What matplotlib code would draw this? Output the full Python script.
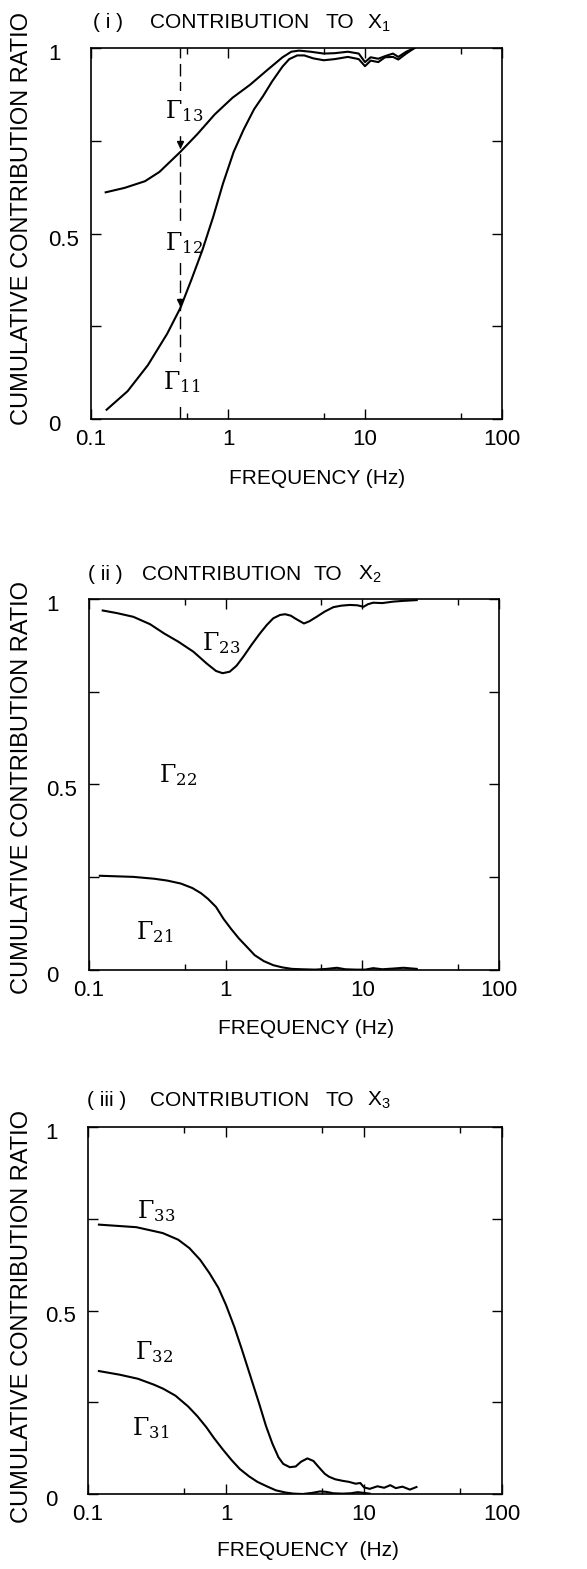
import matplotlib.pyplot as plt
import matplotlib.transforms as mtransforms
import numpy as np

plt.rcParams['font.family'] = ['Liberation Sans', 'DejaVu Sans']
plt.rcParams['font.size'] = 15
plt.rcParams['mathtext.fontset'] = 'custom'
plt.rcParams['mathtext.rm'] = 'Liberation Sans'
plt.rcParams['mathtext.it'] = 'Liberation Sans'

# (i) contribution to X1
f1_up = [0.128, 0.176, 0.248, 0.316, 0.446, 0.598, 0.80, 1.08, 1.45, 1.94, 2.5, 2.9, 3.3, 4.0, 5.0, 6.0, 7.5, 9.0,
         10.0, 11.0, 12.5, 14.0, 16.0, 17.5, 20.0, 23.0]
r1_up = [0.611, 0.623, 0.641, 0.666, 0.719, 0.768, 0.821, 0.866, 0.901, 0.941, 0.975, 0.99, 0.993, 0.99, 0.985,
         0.986, 0.99, 0.985, 0.962, 0.975, 0.971, 0.978, 0.985, 0.976, 0.99, 1.0]
f1_lo = [0.13, 0.185, 0.26, 0.36, 0.45, 0.54, 0.65, 0.78, 0.92, 1.1, 1.3, 1.55, 1.8, 2.1, 2.5, 2.8, 3.2, 3.6, 4.2,
         5.0, 6.0, 7.5, 9.0, 10.0, 11.0, 12.5, 14.0, 16.0, 17.5, 20.0, 23.0]
r1_lo = [0.025, 0.075, 0.145, 0.23, 0.30, 0.375, 0.455, 0.545, 0.635, 0.72, 0.78, 0.835, 0.87, 0.91, 0.95, 0.97,
         0.98, 0.98, 0.972, 0.967, 0.97, 0.976, 0.97, 0.951, 0.966, 0.962, 0.975, 0.976, 0.969, 0.985, 1.0]

# (ii) contribution to X2
f2_up = [0.126, 0.16, 0.211, 0.28, 0.355, 0.45, 0.58, 0.727, 0.85, 0.95, 1.07, 1.2, 1.35, 1.55, 1.78, 2.0, 2.23,
         2.5, 2.72, 3.0, 3.21, 3.5, 3.74, 4.1, 4.63, 5.3, 6.14, 7.0, 8.1, 9.2, 10.2, 11.0, 12.0, 14.0, 16.9, 20.0, 25.0]
r2_up = [0.969, 0.962, 0.952, 0.932, 0.907, 0.885, 0.858, 0.826, 0.806, 0.80, 0.804, 0.82, 0.845, 0.877, 0.907,
         0.93, 0.948, 0.957, 0.959, 0.955, 0.948, 0.94, 0.934, 0.94, 0.952, 0.966, 0.978, 0.982, 0.984, 0.983,
         0.979, 0.986, 0.99, 0.989, 0.993, 0.995, 0.997]
f2_lo = [0.12, 0.211, 0.3, 0.374, 0.47, 0.57, 0.66, 0.741, 0.85, 0.964, 1.1, 1.25, 1.45, 1.63, 1.9, 2.23, 2.6,
         3.06, 3.6, 4.5, 5.5, 6.5, 7.5, 9.0, 10.5, 12.0, 14.0, 17.0, 20.0, 25.0]
r2_lo = [0.254, 0.251, 0.246, 0.241, 0.233, 0.221, 0.207, 0.192, 0.17, 0.138, 0.11, 0.085, 0.06, 0.04, 0.024,
         0.013, 0.007, 0.003, 0.002, 0.001, 0.003, 0.006, 0.002, 0.001, 0.001, 0.005, 0.002, 0.004, 0.006, 0.003]

# (iii) contribution to X3
f3_up = [0.12, 0.224, 0.348, 0.45, 0.543, 0.65, 0.758, 0.88, 1.0, 1.15, 1.3, 1.5, 1.74, 1.95, 2.17, 2.4, 2.6,
         2.9, 3.2, 3.5, 3.89, 4.3, 4.73, 5.2, 5.58, 6.2, 6.97, 7.8, 8.7, 9.4, 10.0, 11.0, 12.5, 14.0, 15.5, 17.0,
         19.0, 21.5, 24.0]
r3_up = [0.734, 0.727, 0.711, 0.693, 0.67, 0.638, 0.602, 0.562, 0.515, 0.455, 0.395, 0.322, 0.246, 0.185, 0.137,
         0.1, 0.082, 0.073, 0.075, 0.088, 0.097, 0.09, 0.072, 0.055, 0.047, 0.04, 0.036, 0.033, 0.028, 0.03,
         0.018, 0.014, 0.021, 0.017, 0.024, 0.016, 0.02, 0.012, 0.019]
f3_lo = [0.12, 0.17, 0.23, 0.3, 0.35, 0.43, 0.53, 0.62, 0.72, 0.82, 0.95, 1.1, 1.26, 1.47, 1.69, 2.0, 2.3, 2.7,
         3.1, 3.6, 4.2, 4.8, 5.3, 6.0, 7.0, 8.0, 9.0, 10.0, 11.0]
r3_lo = [0.335, 0.325, 0.314, 0.298, 0.287, 0.268, 0.239, 0.212, 0.182, 0.152, 0.121, 0.092, 0.068, 0.048, 0.033,
         0.02, 0.01, 0.004, 0.001, 0.0, 0.003, 0.007, 0.006, 0.002, 0.001, 0.002, 0.005, 0.003, 0.001]

# title pieces: (text, left edge in px)
titles = [[('( i )', 93), ('CONTRIBUTION', 150), ('TO', 325), ('$\\mathrm{X}_1$', 367)],
          [('( ii )', 88), ('CONTRIBUTION', 142), ('TO', 314), ('$\\mathrm{X}_2$', 358)],
          [('( iii )', 87), ('CONTRIBUTION', 150), ('TO', 325), ('$\\mathrm{X}_3$', 367)]]
title_y = [23, 574, 1100]
xlabels = ['FREQUENCY (Hz)', 'FREQUENCY (Hz)', 'FREQUENCY  (Hz)']

labels = [[('13', 0.48, 0.83), ('12', 0.48, 0.475), ('11', 0.46, 0.10)],
          [('23', 0.93, 0.88), ('22', 0.45, 0.526), ('21', 0.30, 0.103)],
          [('33', 0.31, 0.77), ('32', 0.30, 0.388), ('31', 0.285, 0.18)]]

curves = [[(f1_up, r1_up), (f1_lo, r1_lo)],
          [(f2_up, r2_up), (f2_lo, r2_lo)],
          [(f3_up, r3_up), (f3_lo, r3_lo)]]

W, H = 587, 1569
# axes boxes in pixels: left, right, top, bottom
boxes = [(91, 502, 48, 419), (89, 499, 599, 970), (88, 502, 1127, 1494)]
xlab_pos = [(317, 478), (306, 1028), (308, 1551)]
ylab_x = [33, 33, 33]
ylab_y = [0.54, 0.493, 0.485]

fig = plt.figure(figsize=(W / 100, H / 100), dpi=100)
shift_down = mtransforms.ScaledTranslation(0, -4 / 100, fig.dpi_scale_trans)

for i in range(3):
    l, r, t, b = boxes[i]
    ax = fig.add_axes([l / W, 1 - b / H, (r - l) / W, (b - t) / H])
    for fx, ry in curves[i]:
        ax.plot(fx, ry, color='black', lw=1.5, zorder=3)
    if i == 0:
        ax.axvline(0.45, color='black', lw=1.0, ls=(0, (9, 4)), zorder=1)
        ax.plot([0.45, 0.45], [0.74, 0.315], ls='none', marker='v', ms=4, color='black', zorder=2)
    for sub, lx, ly in labels[i]:
        ax.text(lx, ly, r'$\Gamma_{%s}$' % sub, math_fontfamily='dejavuserif',
                fontsize=17, ha='center', va='center', zorder=2,
                bbox=dict(facecolor='white', edgecolor='none', pad=5))
    ax.set_xscale('log')
    ax.set_xlim(0.1, 100)
    ax.set_ylim(0, 1)
    ax.set_xticks([0.1, 1, 10, 100])
    ax.set_xticklabels(['0.1', '1', '10', '100'])
    ax.set_xticks([0.5, 5, 50], minor=True)
    ax.set_xticklabels([], minor=True)
    ax.set_yticks([0, 0.25, 0.5, 0.75, 1])
    ax.set_yticklabels(['0', '', '0.5', '', '1'])
    ax.tick_params(which='both', direction='in', top=True, right=True, width=1.0, labelsize=16)
    ax.tick_params(axis='x', which='major', length=7, pad=7)
    ax.tick_params(axis='x', which='minor', length=4)
    ax.tick_params(axis='y', which='major', length=7, pad=31)
    for lab in ax.get_yticklabels():
        lab.set_horizontalalignment('left')
        lab.set_transform(lab.get_transform() + shift_down)
    for s in ax.spines.values():
        s.set_linewidth(1.2)
    ax.set_ylabel('CUMULATIVE CONTRIBUTION RATIO', fontsize=17)
    ax.yaxis.set_label_coords((ylab_x[i] - l) / (r - l), ylab_y[i])
    for txt, tx in titles[i]:
        fig.text(tx / W, 1 - title_y[i] / H, txt, ha='left', va='center', fontsize=15)
    xx, xy = xlab_pos[i]
    fig.text(xx / W, 1 - xy / H, xlabels[i], ha='center', va='center')

fig.savefig('out.png', dpi=100)
